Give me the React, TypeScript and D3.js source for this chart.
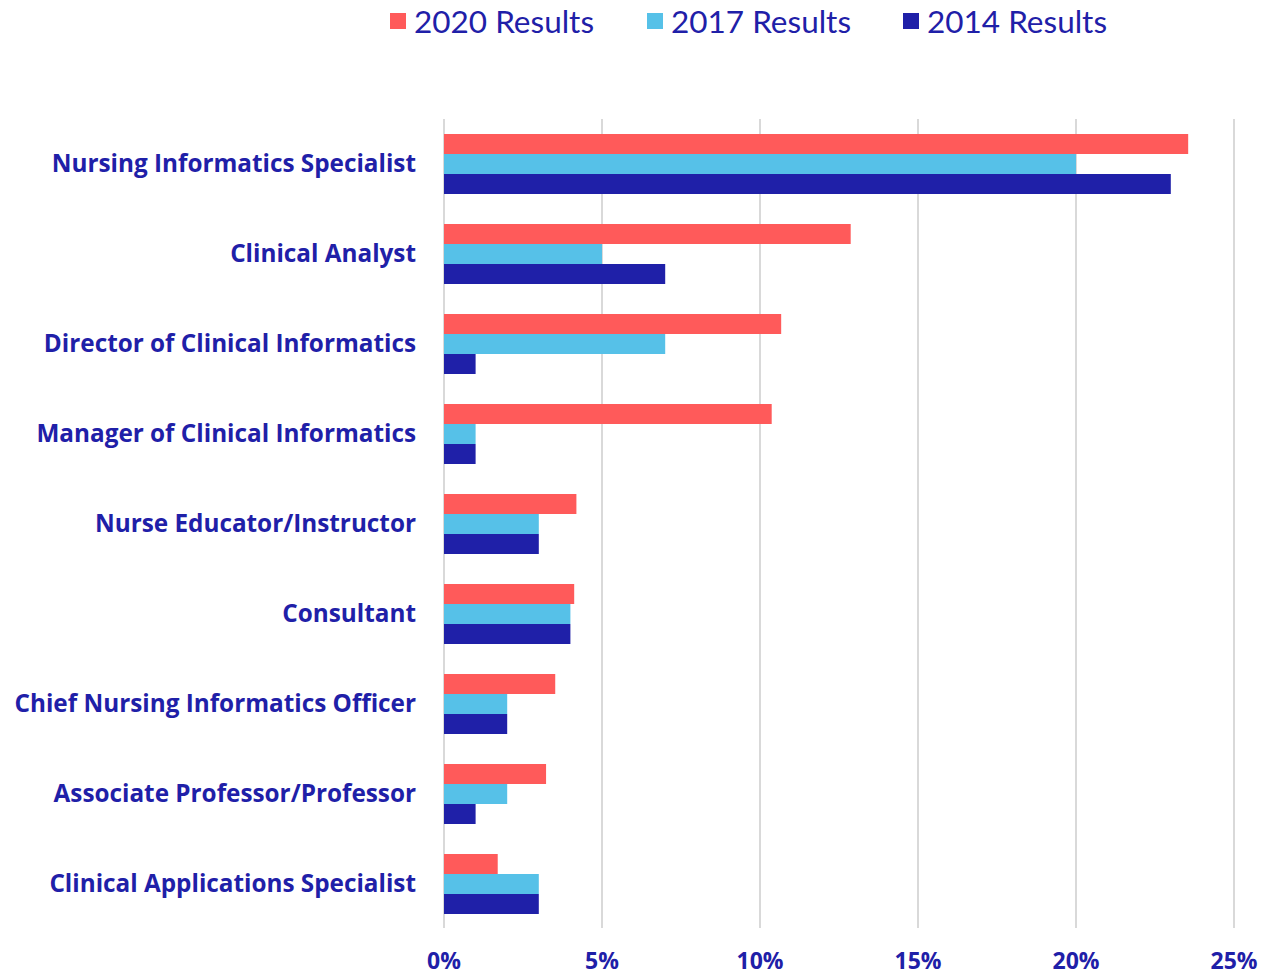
import React from "react";
import * as d3 from "d3";

const categories = [
  "Nursing Informatics Specialist",
  "Clinical Analyst",
  "Director of Clinical Informatics",
  "Manager of Clinical Informatics",
  "Nurse Educator/Instructor",
  "Consultant",
  "Chief Nursing Informatics Officer",
  "Associate Professor/Professor",
  "Clinical Applications Specialist",
];
const seriesNames = ["2020 Results", "2017 Results", "2014 Results"];
const values2020 = [23.55, 12.87, 10.67, 10.37, 4.19, 4.12, 3.52, 3.23, 1.7];
const values2017 = [20, 5, 7, 1, 3, 4, 2, 2, 3];
const values2014 = [23, 7, 1, 1, 3, 4, 2, 1, 3];
const xTicks = [0, 5, 10, 15, 20, 25];
const colors = ["#ff5a5a", "#56c1e8", "#1f20a8"];

const W = 1281;
const H = 977;
const left = 444;
const right = 1234;
const top = 119;
const bottom = 929;
const textColor = "#1f20a8";

export default function App() {
  const series = [values2020, values2017, values2014];
  const x = d3.scaleLinear().domain([0, 25]).range([left, right]);
  const y = d3
    .scaleBand<string>()
    .domain(categories)
    .range([top, bottom])
    .paddingInner(1 / 3)
    .paddingOuter(1 / 6);
  const inner = d3
    .scaleBand<number>()
    .domain([0, 1, 2])
    .range([0, y.bandwidth()]);

  const legendX = [390, 647, 903];

  return (
    <svg
      width={W}
      height={H}
      style={{ position: "absolute", left: 0, top: 0, background: "#fff" }}
    >
      {xTicks.map((t) => (
        <line
          key={t}
          x1={x(t)}
          x2={x(t)}
          y1={top}
          y2={bottom - 1}
          stroke="#d9d9d9"
          strokeWidth={2}
        />
      ))}
      {categories.map((c, i) => (
        <g key={c}>
          {series.map((s, k) => (
            <rect
              key={k}
              x={x(0)}
              y={(y(c) as number) + (inner(k) as number)}
              width={x(s[i]) - x(0)}
              height={inner.bandwidth()}
              fill={colors[k]}
            />
          ))}
          <text
            x={416}
            y={(y(c) as number) + y.bandwidth() / 2}
            dy="0.33em"
            textAnchor="end"
            fontFamily="'Open Sans', sans-serif"
            fontWeight={700}
            fontSize={24.3}
            fill={textColor}
          >
            {c}
          </text>
        </g>
      ))}
      {xTicks.map((t) => (
        <text
          key={"t" + t}
          x={x(t)}
          y={969}
          textAnchor="middle"
          fontFamily="'Open Sans', sans-serif"
          fontWeight={700}
          fontSize={23}
          fill={textColor}
        >
          {t + "%"}
        </text>
      ))}
      {seriesNames.map((n, k) => (
        <g key={n}>
          <rect x={legendX[k]} y={13} width={16} height={16} fill={colors[k]} />
          <text
            x={legendX[k] + 24}
            y={33}
            fontFamily="Lato, sans-serif"
            fontWeight={400}
            fontSize={31.5}
            fill={textColor}
          >
            {n}
          </text>
        </g>
      ))}
    </svg>
  );
}
